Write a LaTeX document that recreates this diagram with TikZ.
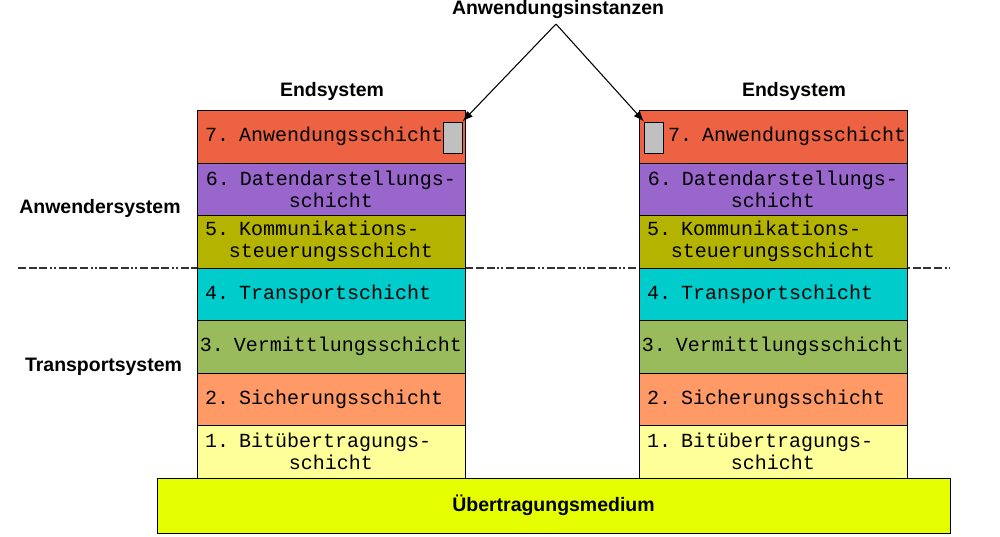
\documentclass[tikz,border=0pt]{standalone}
\usepackage{fontspec}
\setmainfont{Liberation Sans}
\setmonofont{Liberation Mono}
\usetikzlibrary{arrows.meta}
\definecolor{osi_seven}{RGB}{236, 98, 66}
\definecolor{osi_six}{RGB}{153, 102, 204}
\definecolor{osi_five}{RGB}{180, 180, 0}
\definecolor{osi_four}{RGB}{0, 204, 204}
\definecolor{osi_three}{RGB}{153, 187, 92}
\definecolor{osi_two}{RGB}{255, 153, 102}
\definecolor{osi_one}{RGB}{255, 255, 153}
\definecolor{osi_medium}{RGB}{230, 255, 0}
\definecolor{osi_app}{RGB}{192, 192, 192}
\definecolor{osi_dash}{RGB}{50, 50, 50}
\tikzstyle{layer}=[rectangle,draw=black,line width=0.75pt,minimum width=201pt,
  minimum height=39.375pt,inner xsep=6pt,inner ysep=0pt,text width=189pt,
  align=center,font=\ttfamily\fontsize{15pt}{16.5pt}\selectfont]
\tikzstyle{app}=[rectangle,fill=osi_app,draw=black,line width=0.75pt,
  minimum width=14.25pt,minimum height=23.25pt,inner sep=0pt]
\tikzstyle{medium}=[rectangle,fill=osi_medium,draw=black,line width=0.75pt,
  minimum width=594.75pt,minimum height=41.25pt,inner sep=0pt,
  font=\bfseries\fontsize{14.6pt}{17pt}\selectfont]
\tikzstyle{sysname}=[inner sep=0pt,font=\bfseries\fontsize{14.6pt}{17pt}\selectfont]
\newcommand{\layerleft}[1]{\makebox[\linewidth][l]{#1}}

\begin{document}
\begin{tikzpicture}[x=0.75pt,y=-0.75pt]
    \useasboundingbox (0,0) rectangle (1000,536);
    \coordinate (dashl) at (18,268);
    \coordinate (dashr) at (950,268);
    \draw [osi_dash,line width=0.9pt,dash pattern=on 6pt off 2pt on 6pt off 2pt on 6pt off 2pt on 1.5pt off 1.5pt on 1.5pt off 2pt] (dashl) to (dashr);
    % left end system
    \node [style=layer,fill=osi_seven] (a7) at (331,136.75) {\layerleft{7. Anwendungsschicht}};
    \node [style=layer,fill=osi_six] (a6) at (331,189.25) {6. Datendarstellungs-\\schicht};
    \node [style=layer,fill=osi_five] (a5) at (331,241.75) {\layerleft{5. Kommunikations-}\\steuerungsschicht};
    \node [style=layer,fill=osi_four] (a4) at (331,294.25) {\layerleft{4. Transportschicht}};
    \node [style=layer,fill=osi_three] (a3) at (331,346.75) {\makebox[\linewidth][c]{3. Vermittlungsschicht}};
    \node [style=layer,fill=osi_two] (a2) at (331,399.25) {\layerleft{2. Sicherungsschicht}};
    \node [style=layer,fill=osi_one] (a1) at (331,451.75) {\layerleft{1. Bit\"ubertragungs-}\\schicht};
    \node [style=app] (appa) at (452.5,137.5) {};
    % right end system
    \node [style=layer,fill=osi_seven] (b7) at (773,136.75) {\layerleft{\hspace*{15.75pt}7. Anwendungsschicht}};
    \node [style=layer,fill=osi_six] (b6) at (773,189.25) {6. Datendarstellungs-\\schicht};
    \node [style=layer,fill=osi_five] (b5) at (773,241.75) {\layerleft{5. Kommunikations-}\\steuerungsschicht};
    \node [style=layer,fill=osi_four] (b4) at (773,294.25) {\layerleft{4. Transportschicht}};
    \node [style=layer,fill=osi_three] (b3) at (773,346.75) {\makebox[\linewidth][c]{3. Vermittlungsschicht}};
    \node [style=layer,fill=osi_two] (b2) at (773,399.25) {\layerleft{2. Sicherungsschicht}};
    \node [style=layer,fill=osi_one] (b1) at (773,451.75) {\layerleft{1. Bit\"ubertragungs-}\\schicht};
    \node [style=app] (appb) at (654,137.5) {};
    \node [style=medium] (med) at (553.5,505.5) {\"Ubertragungsmedium};
    % labels
    \node [style=sysname] (inst) at (558,9.5) {Anwendungsinstanzen};
    \node [style=sysname] (enda) at (332,91.5) {Endsystem};
    \node [style=sysname] (endb) at (794,91.5) {Endsystem};
    \node [style=sysname] (user) at (100,208.5) {Anwendersystem};
    \node [style=sysname] (trans) at (103.5,366.5) {Transportsystem};
    \coordinate (apex) at (556,24);
    \draw [-{Latex[length=8pt,width=6pt]},line width=0.8pt] (apex) to (appa.north east);
    \draw [-{Latex[length=8pt,width=6pt]},line width=0.8pt] (apex) to (appb.north west);
  \end{tikzpicture}
\end{document}
